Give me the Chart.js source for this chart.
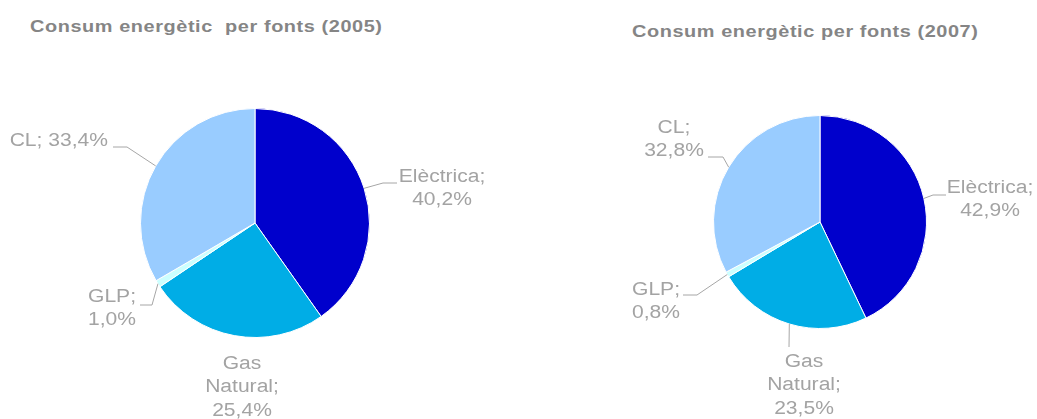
<!DOCTYPE html>
<html>
<head>
<meta charset="utf-8">
<script src="https://cdn.jsdelivr.net/npm/chart.js@4/dist/chart.umd.min.js"></script>
<style>
body{margin:0;background:#fff;width:1037px;height:419px;overflow:hidden;position:relative;font-family:"Liberation Sans",Arial,sans-serif;}
.title{position:absolute;font-weight:bold;font-size:17px;color:#858585;letter-spacing:0.5px;white-space:pre;transform:scaleX(1.17);transform-origin:0 0;}
canvas{position:absolute;top:0;}
</style>
</head>
<body>
<div class="title" style="left:30px;top:17px">Consum energètic  per fonts (2005)</div>
<div class="title" style="left:632px;top:22px">Consum energètic per fonts (2007)</div>
<canvas id="c2005" width="518" height="419" style="left:0"></canvas>
<canvas id="c2007" width="518" height="419" style="left:519px"></canvas>
<script>
const categories = ['Elèctrica', 'Gas Natural', 'GLP', 'CL'];
const values2005 = [40.2, 25.4, 1.0, 33.4];
const values2007 = [42.9, 23.5, 0.8, 32.8];
const colors = ['#0000cc', '#00ade6', '#ccffff', '#99ccff'];

// label placement (canvas px): text anchor, alignment, split into lines, leader elbow points
const layout2005 = [
  {x:442, y:177, align:'center', multi:true, leader:[[383,183],[397,183]]},
  {x:242, y:364, align:'center', multi:true, leader:null},
  {x:88,  y:297, align:'left',   multi:true, leader:[[152,305],[140,305]]},
  {x:108, y:141, align:'right',  multi:false, leader:[[127,147],[113,147]]}
];
const layout2007 = [
  {x:471, y:188, align:'center', multi:true, leader:[[414,195],[427,195]]},
  {x:285, y:362, align:'center', multi:true, leader:[[270,347]]},
  {x:113, y:290, align:'left',   multi:true, leader:[[178,295],[164,295]]},
  {x:155, y:128, align:'center', multi:true, leader:[[204,157],[189,157]]}
];

const leaderLabels = {
  id:'leaderLabels',
  afterDatasetsDraw(chart, args, opts){
    const ctx = chart.ctx;
    const meta = chart.getDatasetMeta(0);
    const vals = chart.data.datasets[0].data;
    ctx.save();
    opts.items.forEach((it, i) => {
      const p = meta.data[i].getProps(['x','y','startAngle','endAngle','outerRadius'], true);
      const mid = (p.startAngle + p.endAngle) / 2;
      const sx = p.x + Math.cos(mid) * p.outerRadius;
      const sy = p.y + Math.sin(mid) * p.outerRadius;
      if (it.leader){
        ctx.strokeStyle = '#a6a6a6';
        ctx.lineWidth = 1;
        ctx.beginPath();
        ctx.moveTo(sx, sy);
        it.leader.forEach(pt => ctx.lineTo(pt[0], pt[1]));
        ctx.stroke();
      }
      const txt = chart.data.labels[i] + '; ' + vals[i].toFixed(1).replace('.', ',') + '%';
      const lines = it.multi ? txt.split(' ') : [txt];
      ctx.fillStyle = '#a3a3a3';
      ctx.font = '18px "Liberation Sans", Arial, sans-serif';
      ctx.textAlign = it.align;
      ctx.textBaseline = 'middle';
      lines.forEach((ln, k) => {
        ctx.save();
        ctx.translate(it.x, it.y + k * 23.5);
        ctx.scale(1.17, 1);
        ctx.fillText(ln, 0, 0);
        ctx.restore();
      });
    });
    ctx.restore();
  }
};

function makePie(id, values, items, pad){
  new Chart(document.getElementById(id), {
    type:'pie',
    data:{
      labels:categories,
      datasets:[{data:values, backgroundColor:colors, borderColor:'#ffffff', borderWidth:1}]
    },
    options:{
      responsive:false,
      animation:false,
      devicePixelRatio:1,
      layout:{padding:pad},
      plugins:{legend:{display:false}, tooltip:{enabled:false}, leaderLabels:{items:items}}
    },
    plugins:[leaderLabels]
  });
}

makePie('c2005', values2005, layout2005, {left:140, right:148, top:108, bottom:81});
makePie('c2007', values2007, layout2007, {left:194, right:110, top:115, bottom:90});
</script>
</body>
</html>
